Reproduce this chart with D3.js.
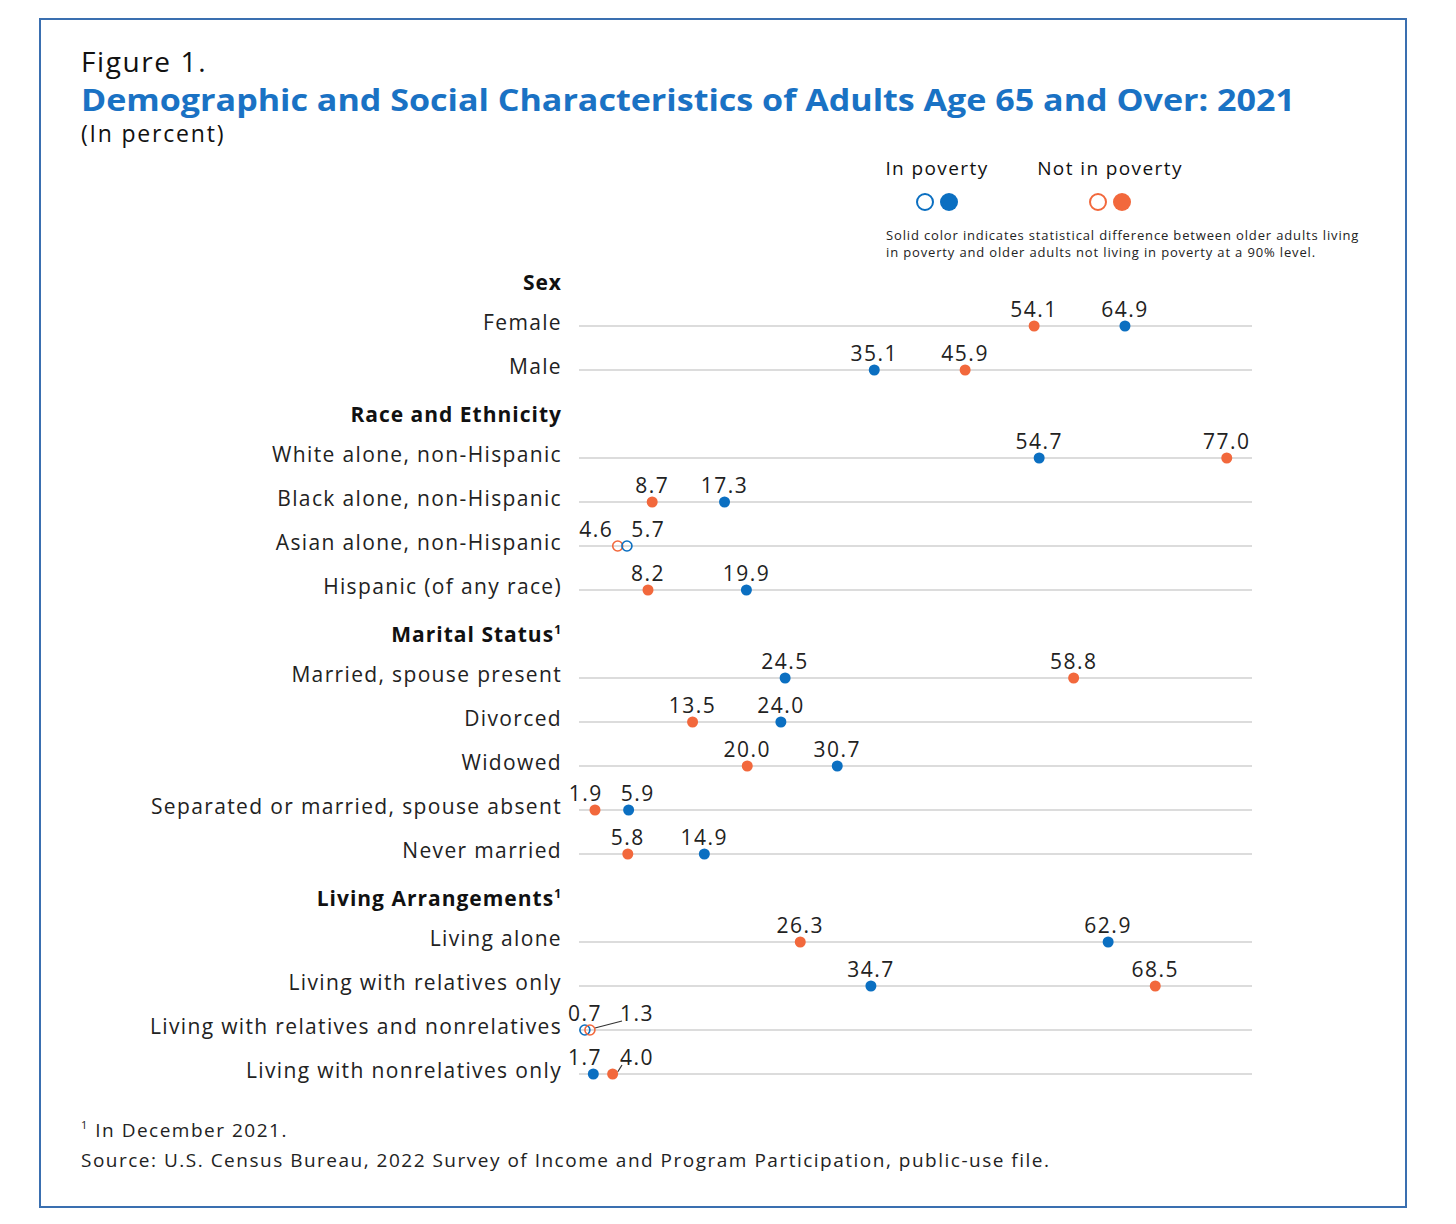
<!DOCTYPE html>
<html>
<head>
<meta charset="utf-8">
<script src="https://cdn.jsdelivr.net/npm/d3@7"></script>
<style>
  body { margin: 0; background: #fff; }
  svg { font-family: "Open Sans", sans-serif; }
</style>
</head>
<body>
<svg id="chart" width="1456" height="1224"></svg>
<script>
const groups = ["Sex", "Race and Ethnicity", "Marital Status", "Living Arrangements"];
const groupHasNote = [false, false, true, true];

const categories = [
  "Female", "Male",
  "White alone, non-Hispanic", "Black alone, non-Hispanic", "Asian alone, non-Hispanic", "Hispanic (of any race)",
  "Married, spouse present", "Divorced", "Widowed", "Separated or married, spouse absent", "Never married",
  "Living alone", "Living with relatives only", "Living with relatives and nonrelatives", "Living with nonrelatives only"
];
const categoryGroup = [0, 0, 1, 1, 1, 1, 2, 2, 2, 2, 2, 3, 3, 3, 3];

const inPoverty = [64.9, 35.1, 54.7, 17.3, 5.7, 19.9, 24.5, 24.0, 30.7, 5.9, 14.9, 62.9, 34.7, 0.7, 1.7];
const notInPoverty = [54.1, 45.9, 77.0, 8.7, 4.6, 8.2, 58.8, 13.5, 20.0, 1.9, 5.8, 26.3, 68.5, 1.3, 4.0];
const significant = [true, true, true, true, false, true, true, true, true, true, true, true, true, false, true];

const blue = "#0b6fc1";
const orange = "#f2683c";

const svg = d3.select("#chart");

// frame
svg.append("rect")
  .attr("x", 40).attr("y", 19)
  .attr("width", 1366).attr("height", 1188)
  .attr("fill", "none")
  .attr("stroke", "#3a6fb0")
  .attr("stroke-width", 2);

// titles
svg.append("text").text("Figure 1.")
  .attr("x", 81).attr("y", 72)
  .attr("font-size", 28).attr("letter-spacing", 1.6)
  .attr("fill", "#111");
svg.append("text").text("Demographic and Social Characteristics of Adults Age 65 and Over: 2021")
  .attr("x", 81).attr("y", 111)
  .attr("font-size", 30).attr("font-weight", 700)
  .attr("fill", "#1a72c4")
  .attr("textLength", 1214).attr("lengthAdjust", "spacingAndGlyphs");
svg.append("text").text("(In percent)")
  .attr("x", 81).attr("y", 142)
  .attr("font-size", 23).attr("letter-spacing", 1.8)
  .attr("fill", "#111");

// legend
const legend = svg.append("g");
legend.append("text").text("In poverty")
  .attr("x", 937).attr("y", 175).attr("text-anchor", "middle")
  .attr("font-size", 19).attr("letter-spacing", 1.4).attr("fill", "#111");
legend.append("text").text("Not in poverty")
  .attr("x", 1110).attr("y", 175).attr("text-anchor", "middle")
  .attr("font-size", 19).attr("letter-spacing", 1.4).attr("fill", "#111");
[[925, blue, false], [949, blue, true], [1098, orange, false], [1122, orange, true]].forEach(([cx, c, solid]) => {
  legend.append("circle")
    .attr("cx", cx).attr("cy", 202).attr("r", solid ? 9 : 8)
    .attr("fill", solid ? c : "#fff")
    .attr("stroke", c).attr("stroke-width", solid ? 0 : 2);
});
legend.append("text").text("Solid color indicates statistical difference between older adults living")
  .attr("x", 886).attr("y", 240).attr("font-size", 13).attr("letter-spacing", 0.85).attr("fill", "#222");
legend.append("text").text("in poverty and older adults not living in poverty at a 90% level.")
  .attr("x", 886).attr("y", 257).attr("font-size", 13).attr("letter-spacing", 0.85).attr("fill", "#222");

// build slots: header row then category rows
const slots = [];
groups.forEach((g, gi) => {
  slots.push({ key: "h" + gi, type: "header", label: g, note: groupHasNote[gi] });
  categories.forEach((c, i) => {
    if (categoryGroup[i] === gi) {
      slots.push({
        key: "c" + i, type: "row", label: c,
        pov: inPoverty[i], notPov: notInPoverty[i], sig: significant[i]
      });
    }
  });
});

const x = d3.scaleLinear().domain([0, 80]).range([579, 1252]);
const y = d3.scalePoint().domain(slots.map(d => d.key)).range([282, 1074]);

const labelX = 562;

// headers
const headers = svg.append("g").selectAll("text")
  .data(slots.filter(d => d.type === "header"))
  .join("text")
  .attr("x", labelX)
  .attr("y", d => y(d.key) + 8)
  .attr("text-anchor", "end")
  .attr("font-size", 21).attr("font-weight", 700)
  .attr("letter-spacing", 1)
  .attr("fill", "#111");
headers.append("tspan").text(d => d.label);
headers.filter(d => d.note).append("tspan").text("1")
  .attr("font-size", 12).attr("dy", -8);

const rows = slots.filter(d => d.type === "row");

// grid lines
svg.append("g").selectAll("line")
  .data(rows)
  .join("line")
  .attr("x1", x(0)).attr("x2", x(80))
  .attr("y1", d => y(d.key)).attr("y2", d => y(d.key))
  .attr("stroke", "#d0d0d0").attr("stroke-width", 1.5);

// category labels
svg.append("g").selectAll("text")
  .data(rows)
  .join("text")
  .text(d => d.label)
  .attr("x", labelX)
  .attr("y", d => y(d.key) + 4)
  .attr("text-anchor", "end")
  .attr("font-size", 21)
  .attr("letter-spacing", 1.35)
  .attr("fill", "#222");

// value label placement: push apart labels that would overlap
const minGap = 52;
const minLabelX = 585;
rows.forEach(d => {
  const pts = [
    { v: d.pov, color: blue },
    { v: d.notPov, color: orange }
  ].sort((a, b) => a.v - b.v);
  const lo = pts[0], hi = pts[1];
  let lx = x(lo.v), hx = x(hi.v);
  let leader = false;
  if (hx - lx < minGap) {
    const mid = (lx + hx) / 2;
    lx = mid - minGap / 2;
    hx = mid + minGap / 2;
    if (lx < minLabelX) {
      hx = minLabelX + minGap;
      lx = minLabelX;
      leader = true;
    }
  }
  lo.lx = lx;
  hi.lx = hx;
  d.pts = pts;
  d.leader = leader;
});

const rowG = svg.append("g").selectAll("g")
  .data(rows)
  .join("g")
  .attr("transform", d => `translate(0,${y(d.key)})`);

// leader lines
rowG.filter(d => d.leader).append("line")
  .attr("x1", d => x(d.pts[1].v) + 5)
  .attr("y1", -2)
  .attr("x2", d => d.pts[1].lx - 15)
  .attr("y2", -9)
  .attr("stroke", "#333").attr("stroke-width", 1.2);

rowG.each(function (d) {
  const g = d3.select(this);
  g.selectAll("circle")
    .data(d.pts)
    .join("circle")
    .attr("cx", p => x(p.v))
    .attr("cy", 0)
    .attr("r", d.sig ? 5.5 : 5)
    .attr("fill", p => d.sig ? p.color : "#fff")
    .attr("stroke", p => p.color)
    .attr("stroke-width", d.sig ? 0 : 1.6)
    .attr("fill-opacity", d.sig ? 1 : 0);
  g.selectAll("text.val")
    .data(d.pts)
    .join("text")
    .attr("class", "val")
    .text(p => p.v.toFixed(1))
    .attr("x", p => p.lx)
    .attr("y", -9)
    .attr("text-anchor", "middle")
    .attr("font-size", 21)
    .attr("letter-spacing", 1.5)
    .attr("fill", "#222");
});

// footnotes
const foot = svg.append("text")
  .attr("x", 81).attr("y", 1137)
  .attr("font-size", 19).attr("letter-spacing", 1.5).attr("fill", "#222");
foot.append("tspan").text("1").attr("font-size", 11).attr("dy", -8);
foot.append("tspan").text(" In December 2021.").attr("dy", 8);
svg.append("text")
  .text("Source: U.S. Census Bureau, 2022 Survey of Income and Program Participation, public-use file.")
  .attr("x", 81).attr("y", 1167)
  .attr("font-size", 19).attr("letter-spacing", 1.5)
  .attr("fill", "#222");
</script>
</body>
</html>
